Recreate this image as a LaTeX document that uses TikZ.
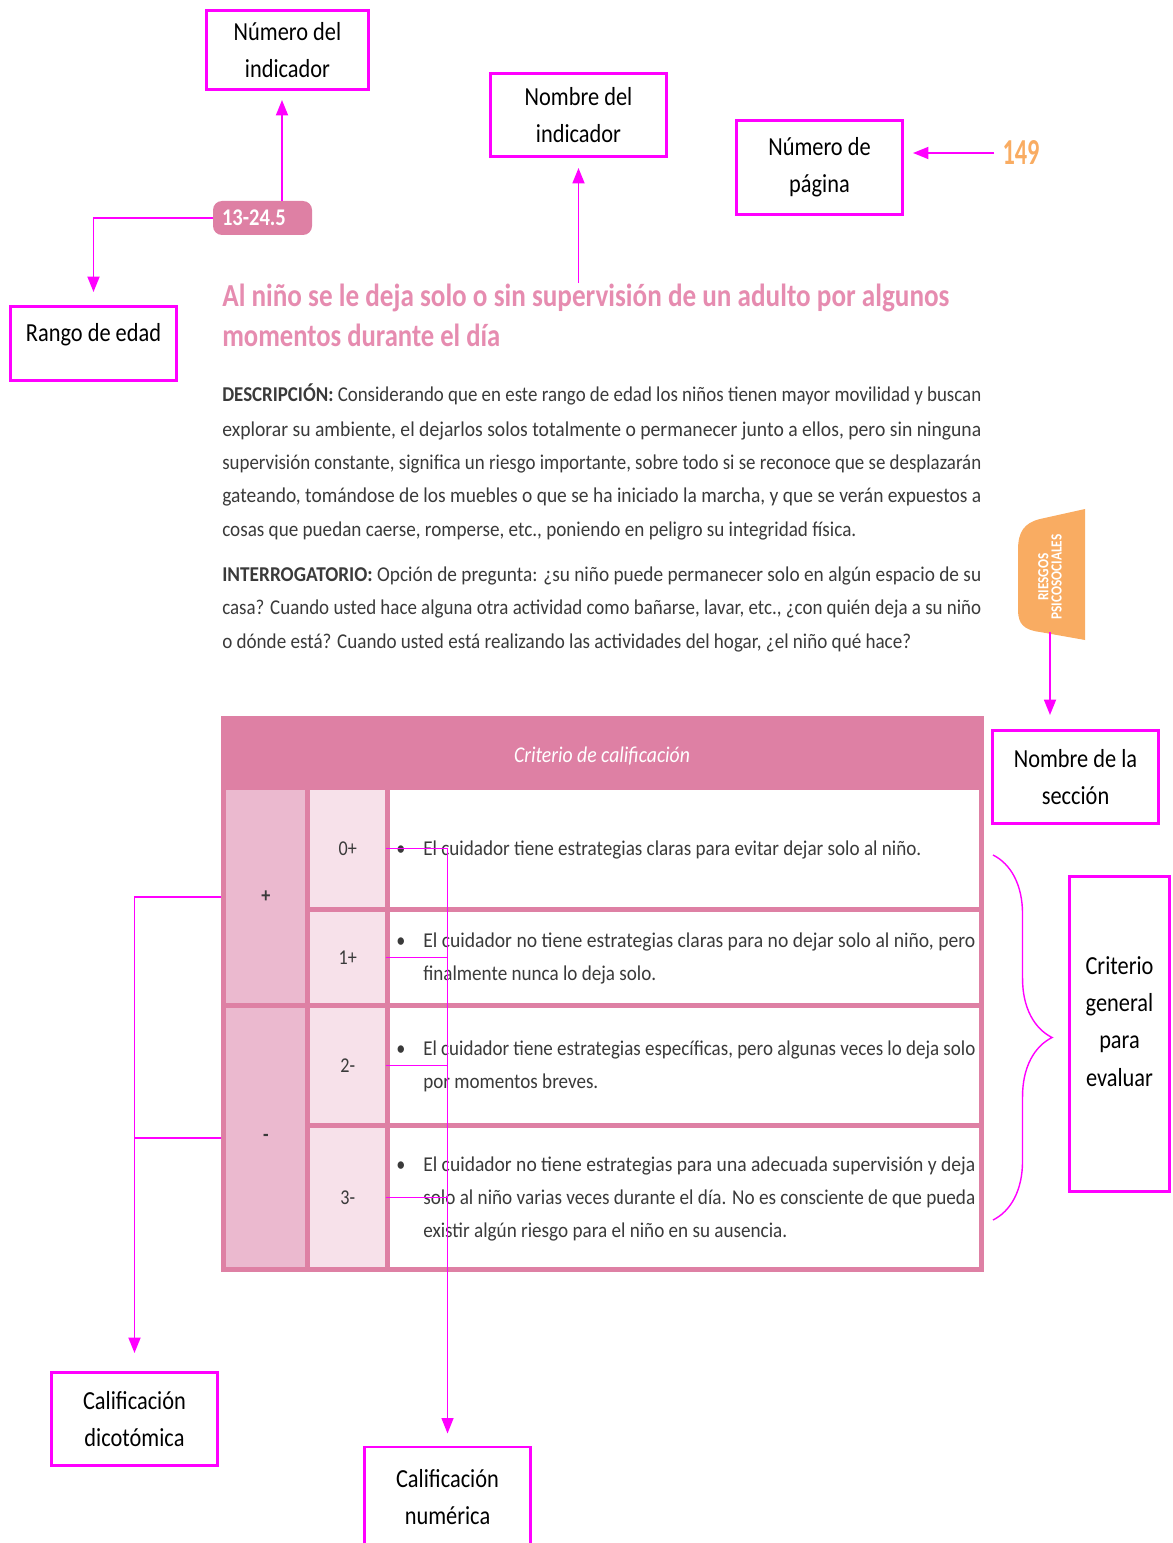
\documentclass[tikz,border=0pt]{standalone}
\usepackage{fontspec}
\setmainfont{Carlito}[FakeStretch=0.86]
\usepackage{graphicx}
\usetikzlibrary{arrows.meta,decorations.pathreplacing,positioning}

\definecolor{mag}{RGB}{255,0,255}
\definecolor{rosa}{RGB}{222,128,164}
\definecolor{rosaclaro}{RGB}{235,185,207}
\definecolor{rosapalido}{RGB}{247,225,234}
\definecolor{titulo}{RGB}{230,140,176}
\definecolor{naranja}{RGB}{249,172,98}
\definecolor{texto}{RGB}{58,58,58}

\newlength{\pxu}
\setlength{\pxu}{0.025cm}
\newcommand{\cajafont}{\fontsize{18.5pt}{26.5pt}\selectfont}
\newcommand{\textofont}{\fontsize{15pt}{18pt}\selectfont}
\newcommand{\fitw}[2]{\resizebox{#1\pxu}{\height}{#2}}

\begin{document}
\begin{tikzpicture}[x=0.025cm,y=-0.025cm,
  caja/.style={draw=mag,line width=2.1pt,align=center,inner sep=2pt,font=\cajafont},
  flecha/.style={draw=mag,line width=1.4pt,-{Triangle[length=11pt,width=8.5pt]}},
  linea/.style={draw=mag,line width=1.4pt},
  fina/.style={draw=mag,line width=1pt},
  renglon/.style={anchor=base west,inner sep=0pt,text=texto,font=\textofont},
  celda/.style={anchor=north west,inner sep=0pt,text=texto,font=\textofont}]
 % \draw[help lines] (0,0) grid[step=100] (1172,1543);
  \useasboundingbox (0,0) rectangle (1172,1543);

  % cajas de texto
  \node[caja,minimum width=162\pxu,minimum height=79\pxu] (nind) at (287.5,50) {Número del\\indicador};
  \node[caja,minimum width=176\pxu,minimum height=83\pxu] (nomb) at (578.5,115) {Nombre del\\indicador};
  \node[caja,minimum width=166\pxu,minimum height=94\pxu] (npag) at (819.5,167.5) {Número de\\página};
  \node[caja,minimum width=166\pxu,minimum height=74\pxu,text depth=15pt] (rango) at (93.5,343.5) {Rango de edad};
  \node[caja,minimum width=166\pxu,minimum height=93\pxu] (secc) at (1075.5,777) {Nombre de la\\sección};
  \node[caja,minimum width=100\pxu,minimum height=315\pxu,text depth=18pt] (crit) at (1119.5,1034) {Criterio\\general\\para\\evaluar};
  \node[caja,minimum width=166\pxu,minimum height=93\pxu] (dico) at (134.5,1419) {Calificación\\dicotómica};
  \node[caja,minimum width=166\pxu,minimum height=100\pxu] (nume) at (447.5,1497) {Calificación\\numérica};

  % pagina
  \node[fill=rosa,rounded corners=9\pxu,minimum height=34\pxu,text width=81\pxu,inner xsep=9\pxu,inner ysep=0pt,
        align=left,text=white,font=\bfseries\fontsize{17pt}{17pt}\selectfont] (badge) at (262.5,218) {13-24.5};
  \node[text=naranja,inner sep=8\pxu,font=\bfseries\fontsize{26pt}{26pt}\selectfont] (pg) at (1021,153) {\fitw{37}{149}};

  \node[anchor=base west,inner sep=0pt,text=titulo,font=\bfseries\fontsize{22.8pt}{28pt}\selectfont] (tit1) at (222,306)
    {\fitw{727}{Al niño se le deja solo o sin supervisión de un adulto por algunos}};
  \node[anchor=base west,inner sep=0pt,text=titulo,font=\bfseries\fontsize{22.8pt}{28pt}\selectfont] (tit2) at (222,346)
    {\fitw{278}{momentos durante el día}};

  \node[renglon] (d1) at (222,401) {\fitw{759}{\textbf{DESCRIPCIÓN:} Considerando que en este rango de edad los niños tienen mayor movilidad y buscan}};
  \node[renglon] (d2) at (222,436) {\fitw{759}{explorar su ambiente, el dejarlos solos totalmente o permanecer junto a ellos, pero sin ninguna}};
  \node[renglon] (d3) at (222,469) {\fitw{759}{supervisión constante, significa un riesgo importante, sobre todo si se reconoce que se desplazarán}};
  \node[renglon] (d4) at (222,502) {\fitw{759}{gateando, tomándose de los muebles o que se ha iniciado la marcha, y que se verán expuestos a}};
  \node[renglon] (d5) at (222,536) {\fitw{634}{cosas que puedan caerse, romperse, etc., poniendo en peligro su integridad física.}};
  \node[renglon] (i1) at (222,581) {\fitw{759}{\textbf{INTERROGATORIO:} Opción de pregunta: ¿su niño puede permanecer solo en algún espacio de su}};
  \node[renglon] (i2) at (222,614) {\fitw{759}{casa? Cuando usted hace alguna otra actividad como bañarse, lavar, etc., ¿con quién deja a su niño}};
  \node[renglon] (i3) at (222,648) {\fitw{689}{o dónde está? Cuando usted está realizando las actividades del hogar, ¿el niño qué hace?}};

  % pestaña
  \fill[naranja] (1085,509) -- (1040,519) .. controls (1024,523) and (1018,532) .. (1018,550) -- (1018,610)
    .. controls (1018,624) and (1024,630) .. (1040,632) -- (1085,640) -- cycle;
  \node[rotate=90,text=white,align=center,inner sep=0pt,font=\bfseries\fontsize{11pt}{9.5pt}\selectfont] (pest) at (1050,577) {RIESGOS\\PSICOSOCIALES};
  \coordinate (pestbot) at (1050,632);

  % tabla
  \node[anchor=north west,fill=rosa,inner sep=0pt,minimum width=763\pxu,minimum height=556\pxu] (tabla) at (221,716) {};
  \node[text=white,inner sep=0pt,font=\itshape\fontsize{16pt}{16pt}\selectfont] (encab) at (602,756) {\fitw{176}{Criterio de calificación}};
  \node[celda,fill=rosaclaro,minimum width=79\pxu,minimum height=213\pxu] (plus) at (226,790) {\textbf{+}};
  \node[celda,fill=rosaclaro,minimum width=79\pxu,minimum height=259\pxu] (minus) at (226,1008) {\textbf{-}};
  \node[celda,fill=rosapalido,minimum width=75\pxu,minimum height=117\pxu] (s0) at (310,790) {0+};
  \node[celda,fill=rosapalido,minimum width=75\pxu,minimum height=91\pxu] (s1) at (310,912) {1+};
  \node[celda,fill=rosapalido,minimum width=75\pxu,minimum height=115\pxu] (s2) at (310,1008) {2-};
  \node[celda,fill=rosapalido,minimum width=75\pxu,minimum height=139\pxu] (s3) at (310,1128) {3-};
  \node[celda,fill=white,minimum width=589\pxu,minimum height=117\pxu] (r0) at (390,790) {};
  \node[celda,fill=white,minimum width=589\pxu,minimum height=91\pxu] (r1) at (390,912) {};
  \node[celda,fill=white,minimum width=589\pxu,minimum height=115\pxu] (r2) at (390,1008) {};
  \node[celda,fill=white,minimum width=589\pxu,minimum height=139\pxu] (r3) at (390,1128) {};

  \node[renglon] (p0) at (396,855) {\textbullet};
  \node[renglon] (t0) at (423,855) {\fitw{498}{El cuidador tiene estrategias claras para evitar dejar solo al niño.}};
  \node[renglon] (p1) at (396,947) {\textbullet};
  \node[renglon] (t1a) at (423,947) {\fitw{552}{El cuidador no tiene estrategias claras para no dejar solo al niño, pero}};
  \node[renglon] (t1b) at (423,980) {\fitw{233}{finalmente nunca lo deja solo.}};
  \node[renglon] (p2) at (396,1055) {\textbullet};
  \node[renglon] (t2a) at (423,1055) {\fitw{552}{El cuidador tiene estrategias específicas, pero algunas veces lo deja solo}};
  \node[renglon] (t2b) at (423,1088) {\fitw{175}{por momentos breves.}};
  \node[renglon] (p3) at (396,1171) {\textbullet};
  \node[renglon] (t3a) at (423,1171) {\fitw{552}{El cuidador no tiene estrategias para una adecuada supervisión y deja}};
  \node[renglon] (t3b) at (423,1204) {\fitw{552}{solo al niño varias veces durante el día. No es consciente de que pueda}};
  \node[renglon] (t3c) at (423,1237) {\fitw{364}{existir algún riesgo para el niño en su ausencia.}};

  % conectores
  \draw[flecha,shorten >=9\pxu] ([xshift=-5.5\pxu]badge.north -| nind.south) -- ([xshift=-5.5\pxu]nind.south);
  \draw[flecha,shorten >=13\pxu] (badge.west) -| (rango.north);
  \draw[flecha,shorten >=10\pxu] (nomb.south |- tit1.north) -- (nomb.south);
  \draw[flecha,shorten >=9\pxu] (pg.west) -- (pg.west -| npag.east);
  \draw[flecha,shorten >=14\pxu] (pestbot) -- (pestbot |- secc.north);
  \draw[flecha,shorten >=18\pxu] (plus.west -| tabla.west) -| (dico.north);
  \draw[linea] (minus.west -| tabla.west) -- (minus.west -| dico.north);
  \draw[fina] (s0.east) -- (s0.east -| nume.north);
  \draw[fina] (s1.east) -- (s1.east -| nume.north);
  \draw[fina] (s2.east) -- (s2.east -| nume.north);
  \draw[fina] (s3.east) -- (s3.east -| nume.north);
  \draw[flecha,line width=1pt,shorten >=12\pxu] (s0.east -| nume.north) -- (nume.north);
  \coordinate (llave1) at (993,855);
  \coordinate (llave2) at (993,1220);
  \draw[fina,decorate,decoration={brace,amplitude=42pt}] (llave1) -- (llave2);
\end{tikzpicture}
\end{document}
